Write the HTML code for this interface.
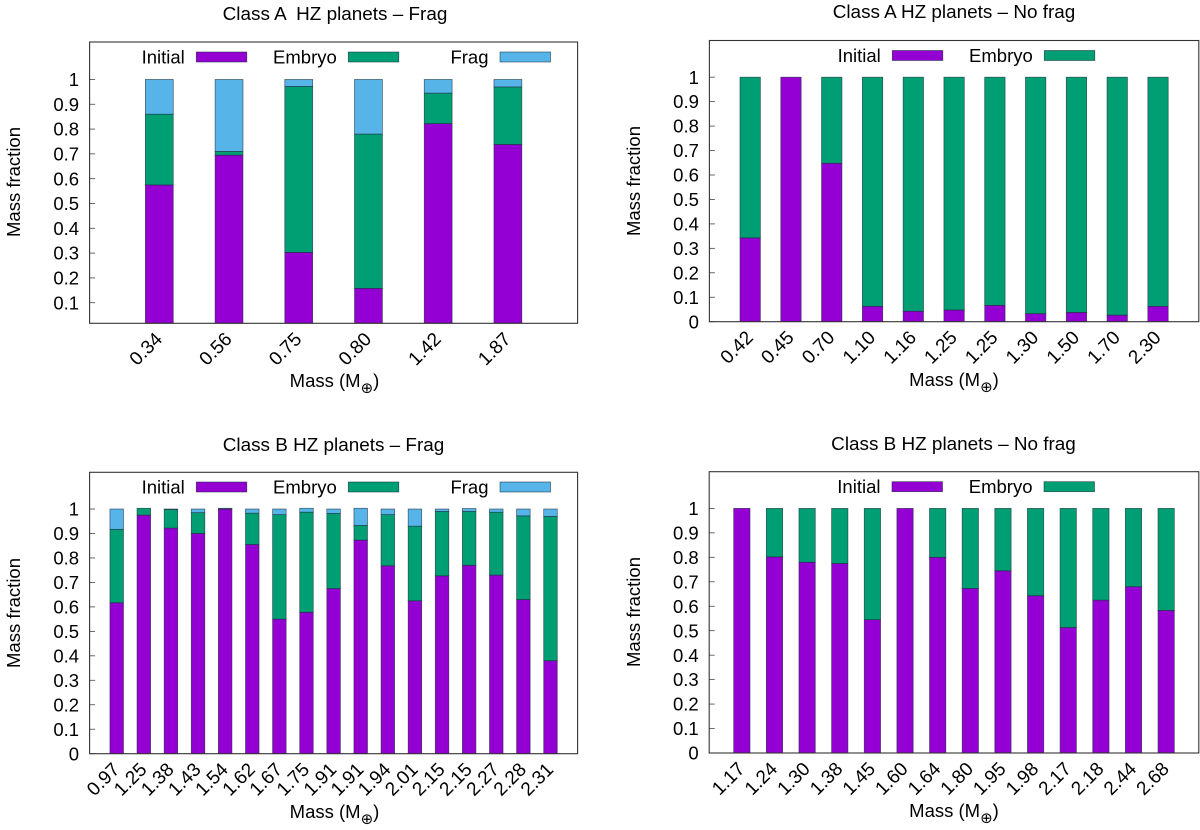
<!DOCTYPE html>
<html lang="en">
<head>
<meta charset="utf-8">
<title>HZ planets mass fraction charts</title>
<style>
html,body{margin:0;padding:0;background:#fff;width:1200px;height:830px;overflow:hidden}
svg{display:block}
text{font-family:"Liberation Sans",Arial,sans-serif;fill:#000;white-space:pre}
</style>
</head>
<body>
<svg id="figure" xmlns="http://www.w3.org/2000/svg" width="1200" height="830" viewBox="0 0 1200 830"></svg>
<script>
var tickLabels = ['0','0.1','0.2','0.3','0.4','0.5','0.6','0.7','0.8','0.9','1'];
var tickValues = [0,0.1,0.2,0.3,0.4,0.5,0.6,0.7,0.8,0.9,1];
var seriesNames = ['Initial','Embryo','Frag'];
var seriesColors = ['#9400d3','#009e73','#56b4e9'];

var aFragMasses = ['0.34','0.56','0.75','0.80','1.42','1.87'];
var aFragInitial = [0.575,0.695,0.303,0.158,0.822,0.738];
var aFragEmbryo = [0.285,0.015,0.669,0.622,0.123,0.232];
var aFragFrag = [0.140,0.290,0.028,0.220,0.055,0.030];

var aNoFragMasses = ['0.42','0.45','0.70','1.10','1.16','1.25','1.25','1.30','1.50','1.70','2.30'];
var aNoFragInitial = [0.343,1,0.648,0.063,0.043,0.048,0.067,0.033,0.038,0.027,0.063];
var aNoFragEmbryo = [0.657,0,0.352,0.937,0.957,0.952,0.933,0.967,0.962,0.973,0.937];

var bFragMasses = ['0.97','1.25','1.38','1.43','1.54','1.62','1.67','1.75','1.91','1.91','1.94','2.01','2.15','2.15','2.27','2.28','2.31'];
var bFragInitial = [0.617,0.975,0.922,0.900,1.000,0.855,0.550,0.578,0.675,0.873,0.768,0.625,0.727,0.770,0.730,0.630,0.380];
var bFragEmbryo = [0.300,0.028,0.076,0.085,0.003,0.128,0.427,0.409,0.307,0.060,0.209,0.305,0.263,0.220,0.257,0.342,0.590];
var bFragFrag = [0.083,0,0.002,0.015,0,0.017,0.023,0.016,0.018,0.070,0.023,0.070,0.010,0.012,0.013,0.028,0.030];

var bNoFragMasses = ['1.17','1.24','1.30','1.38','1.45','1.60','1.64','1.80','1.95','1.98','2.17','2.18','2.44','2.68'];
var bNoFragInitial = [1,0.802,0.780,0.775,0.545,1,0.800,0.673,0.745,0.643,0.513,0.625,0.680,0.583];
var bNoFragEmbryo = [0,0.198,0.220,0.225,0.455,0,0.200,0.327,0.255,0.357,0.487,0.375,0.320,0.417];

var NS = 'http://www.w3.org/2000/svg';
var figure = document.getElementById('figure');

function make(parent, tag, attrs, content) {
  var node = document.createElementNS(NS, tag);
  for (var key in attrs) { node.setAttribute(key, attrs[key]); }
  if (content !== undefined) { node.textContent = content; }
  parent.appendChild(node);
  return node;
}

function drawPanel(p) {
  var g = make(figure, 'g', {});
  
  

  var xStep = (p.right - p.left) / (p.masses.length + 1);
  function xAxis(i) { return p.left + xStep * (i + 1); }
  function yAxis(v) { return p.bottom - (v - p.yMin) / (p.yMax - p.yMin) * (p.bottom - p.top); }

  var title = make(g, 'text', {x: p.titleX, y: p.titleY, 'text-anchor': 'middle', 'font-size': 18.9}, p.title);
  
  

  var plotArea = make(g, 'rect', {x: p.left, y: p.top, width: p.right - p.left, height: p.bottom - p.top, fill: '#fff', stroke: 'none'});
  
  

  tickValues.forEach(function (v, i) {
    if (v < p.yMin) { return; }
    var y = yAxis(v);
    var tick = make(g, 'line', {x1: p.left, x2: p.left + 5.5, y1: y, y2: y, stroke: '#444', 'stroke-width': 0.8});
    
    
    var label = make(g, 'text', {x: p.left - 10.5, y: y + 6.6, 'text-anchor': 'end', 'font-size': 18.5}, tickLabels[i]);
    
    
  });

  var barWidth = xStep * p.barFrac;
  p.masses.forEach(function (mass, i) {
    var cx = xAxis(i);
    var running = 0;
    p.series.forEach(function (values, s) {
      var v = values[i];
      if (v <= 0) { return; }
      var lower = Math.max(running, p.yMin);
      var upper = running + v;
      var bar = make(g, 'rect', {
        x: cx - barWidth / 2, y: yAxis(upper), width: barWidth, height: yAxis(lower) - yAxis(upper),
        fill: seriesColors[s], stroke: '#1c2c3c', 'stroke-width': 0.7, 'stroke-opacity': 0.75
      });
      
      
      running = upper;
    });
    var ax = cx + 4;
    var ay = p.bottom + 17;
    var xLabel = make(g, 'text', {x: ax, y: ay, 'text-anchor': 'end', 'font-size': 19, transform: 'rotate(-45 ' + ax + ' ' + ay + ')'}, mass);
    
    
  });

  var frame = make(g, 'rect', {x: p.left, y: p.top, width: p.right - p.left, height: p.bottom - p.top, fill: 'none', stroke: '#333', 'stroke-width': 1.1});
  
  

  p.series.forEach(function (values, s) {
    var entry = make(g, 'g', {});
    
    
    var sx = p.legendX[s];
    make(entry, 'text', {x: sx - 11.5, y: p.legendY + 11.5, 'text-anchor': 'end', 'font-size': 18.5}, seriesNames[s]);
    make(entry, 'rect', {x: sx, y: p.legendY, width: 50.5, height: 10, fill: seriesColors[s], stroke: '#1c2c3c', 'stroke-width': 0.7, 'stroke-opacity': 0.75});
  });

  var yTitle = make(g, 'text', {x: p.yTitleX, y: p.yTitleY, 'text-anchor': 'middle', 'font-size': 18.5, transform: 'rotate(-90 ' + p.yTitleX + ' ' + p.yTitleY + ')'}, 'Mass fraction');
  
  

  var xTitle = make(g, 'text', {x: p.xTitleX, y: p.xTitleY, 'text-anchor': 'middle', 'font-size': 18.5});
  
  
  make(xTitle, 'tspan', {}, 'Mass (M');
  make(xTitle, 'tspan', {dy: 6, 'font-size': 15, 'font-family': '"DejaVu Sans",sans-serif'}, '\u2295');
  make(xTitle, 'tspan', {dy: -6}, ')');
}

drawPanel({
  id: 'class-a-frag', title: 'Class A  HZ planets \u2013 Frag', titleX: 335, titleY: 20,
  left: 89.6, right: 577.6, top: 42, bottom: 323.3, yMin: 0.017, yMax: 1.151, barFrac: 0.4,
  masses: aFragMasses, series: [aFragInitial, aFragEmbryo, aFragFrag],
  legendX: [196.3, 348.3, 500], legendY: 52,
  yTitleX: 20, yTitleY: 182, xTitleX: 334.5, xTitleY: 387
});
drawPanel({
  id: 'class-a-no-frag', title: 'Class A HZ planets \u2013 No frag', titleX: 954, titleY: 18,
  left: 709.4, right: 1198.8, top: 40.5, bottom: 321.7, yMin: 0, yMax: 1.15, barFrac: 0.5,
  masses: aNoFragMasses, series: [aNoFragInitial, aNoFragEmbryo],
  legendX: [892.3, 1044.3], legendY: 50.5,
  yTitleX: 640, yTitleY: 181, xTitleX: 954, xTitleY: 386
});
drawPanel({
  id: 'class-b-frag', title: 'Class B HZ planets \u2013 Frag', titleX: 333.5, titleY: 451,
  left: 89.6, right: 577.6, top: 472.3, bottom: 753.7, yMin: 0, yMax: 1.15, barFrac: 0.5,
  masses: bFragMasses, series: [bFragInitial, bFragEmbryo, bFragFrag],
  legendX: [196.3, 348.3, 500], legendY: 482,
  yTitleX: 20, yTitleY: 613, xTitleX: 334.5, xTitleY: 818
});
drawPanel({
  id: 'class-b-no-frag', title: 'Class B HZ planets \u2013 No frag', titleX: 953.5, titleY: 450,
  left: 709.2, right: 1198.8, top: 471.7, bottom: 753, yMin: 0, yMax: 1.15, barFrac: 0.5,
  masses: bNoFragMasses, series: [bNoFragInitial, bNoFragEmbryo],
  legendX: [892, 1044], legendY: 481.7,
  yTitleX: 640, yTitleY: 612, xTitleX: 954, xTitleY: 817
});
</script>
</body>
</html>
